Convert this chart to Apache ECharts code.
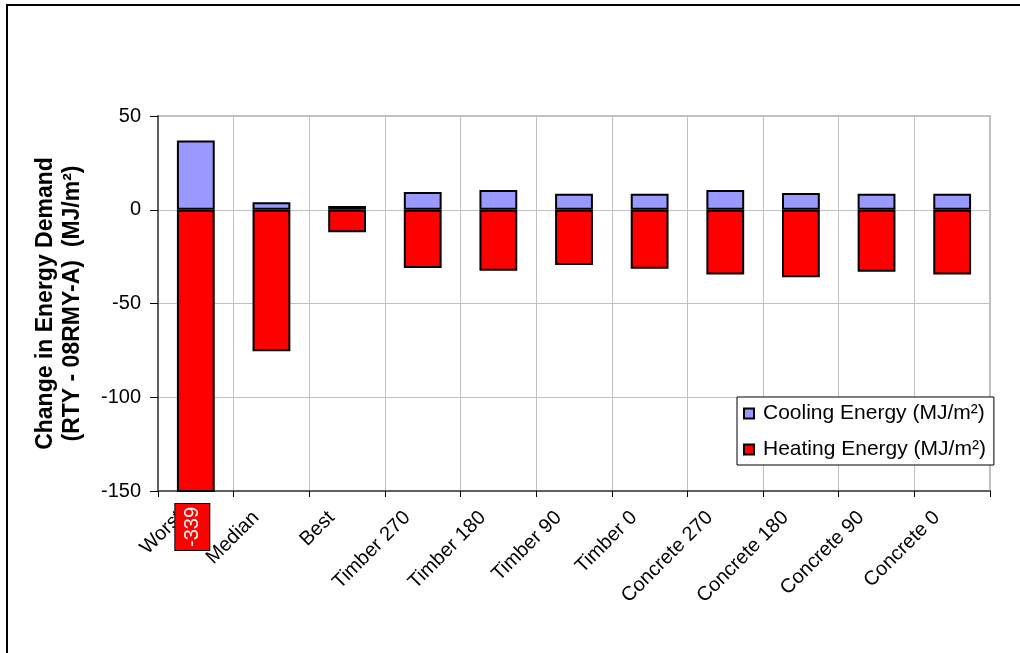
<!DOCTYPE html>
<html>
<head>
<meta charset="utf-8">
<script src="https://cdn.jsdelivr.net/npm/echarts@6/dist/echarts.min.js"></script>
<style>
  html, body { margin: 0; padding: 0; background: #ffffff; }
  #chart { width: 1020px; height: 653px; }
</style>
</head>
<body>
<div id="chart"></div>
<script>
// Scenario categories along the x axis
const categories = ['Worst', 'Median', 'Best', 'Timber 270', 'Timber 180', 'Timber 90', 'Timber 0',
  'Concrete 270', 'Concrete 180', 'Concrete 90', 'Concrete 0'];
// Change in energy demand, MJ/m²
const coolingEnergy = [37, 4, 2, 9.5, 10.5, 8.5, 8.5, 10.5, 9, 8.5, 8.5];
const heatingEnergy = [-339, -75.5, -12, -31, -32.5, -29.5, -31.5, -34.5, -36, -33, -34.5];
// Value axis ticks
const yMin = -150, yMax = 50, yStep = 50;

const FONT = '"Liberation Sans", Arial, sans-serif';

const chart = echarts.init(document.getElementById('chart'), null, { renderer: 'canvas' });

// Heating bars; the worst case runs off the axis, so its value is written under it
const heatingData = heatingEnergy.map((v) => {
  if (v < yMin) {
    return {
      value: v,
      label: {
        show: true,
        position: 'bottom',
        distance: 35,
        offset: [0, -3.5],
        rotate: 90,
        align: 'center',
        verticalAlign: 'middle',
        formatter: '{c}',
        color: '#ffffff',
        fontFamily: FONT,
        fontSize: 20,
        backgroundColor: '#ff0000',
        borderColor: '#000000',
        borderWidth: 1,
        padding: [8, 3, 6, 3]
      }
    };
  }
  return v;
});

chart.setOption({
  animation: false,
  backgroundColor: '#ffffff',
  textStyle: { fontFamily: FONT, color: '#000000' },
  graphic: [{
    type: 'rect',
    shape: { x: 7, y: 5, width: 1100, height: 800 },
    style: { fill: null, stroke: '#000000', lineWidth: 2 },
    silent: true,
    z: 100
  }],
  grid: {
    left: 158, right: 30, top: 116, bottom: 162,
    show: true,
    borderColor: '#c0c0c0',
    borderWidth: 2,
    backgroundColor: '#ffffff'
  },
  legend: {
    orient: 'vertical',
    left: 737,
    top: 397,
    padding: [6, 8, 5, 6],
    itemGap: 15,
    itemWidth: 10,
    itemHeight: 10,
    icon: 'rect',
    backgroundColor: '#ffffff',
    borderColor: '#000000',
    borderWidth: 1,
    textStyle: { fontFamily: FONT, fontSize: 21, color: '#000000', padding: [0, 0, 0, 4] },
    data: ['Cooling Energy (MJ/m²)', 'Heating Energy (MJ/m²)']
  },
  xAxis: {
    type: 'category',
    data: categories,
    boundaryGap: true,
    axisLine: { show: true, onZero: false, lineStyle: { color: '#606060', width: 2 } },
    axisTick: { show: true, length: 6, lineStyle: { color: '#000000', width: 1 } },
    splitLine: { show: true, interval: 0, lineStyle: { color: '#c0c0c0', width: 1 } },
    axisLabel: {
      interval: 0,
      rotate: 45,
      margin: 8,
      padding: [0, 22, 0, 0],
      fontFamily: FONT,
      fontSize: 20,
      color: '#000000'
    }
  },
  yAxis: {
    type: 'value',
    min: yMin,
    max: yMax,
    interval: yStep,
    name: 'Change in Energy Demand\n(RTY - 08RMY-A)  (MJ/m²)',
    nameLocation: 'middle',
    nameGap: 72,
    nameRotate: 90,
    nameTextStyle: {
      fontFamily: FONT,
      fontSize: 23,
      fontWeight: 'bold',
      color: '#000000',
      lineHeight: 27
    },
    axisLine: { show: true, lineStyle: { color: '#606060', width: 2 } },
    axisTick: { show: true, length: 8, lineStyle: { color: '#000000', width: 1 } },
    splitLine: { show: true, lineStyle: { color: '#c0c0c0', width: 1 } },
    axisLabel: {
      margin: 17,
      fontFamily: FONT,
      fontSize: 20,
      color: '#000000'
    }
  },
  series: [
    {
      name: 'Cooling Energy (MJ/m²)',
      type: 'bar',
      stack: 'energy',
      barWidth: '50%',
      data: coolingEnergy,
      itemStyle: { color: '#9999ff', borderColor: '#000000', borderWidth: 2 }
    },
    {
      name: 'Heating Energy (MJ/m²)',
      type: 'bar',
      stack: 'energy',
      barWidth: '50%',
      data: heatingData,
      itemStyle: { color: '#ff0000', borderColor: '#000000', borderWidth: 2 }
    }
  ]
});
</script>
</body>
</html>
